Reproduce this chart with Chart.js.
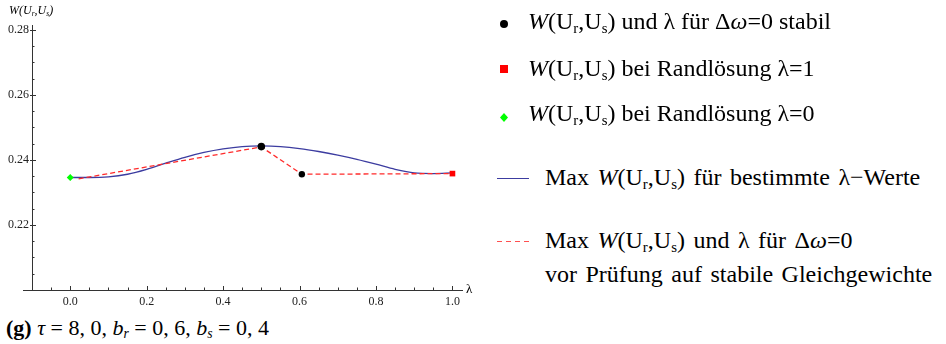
<!DOCTYPE html>
<html>
<head>
<meta charset="utf-8">
<script src="https://cdn.jsdelivr.net/npm/chart.js@4/dist/chart.umd.min.js"></script>
<style>
  body { margin: 0; background: #fff; width: 946px; height: 344px; position: relative; overflow: hidden;
         font-family: "Liberation Serif", "Times New Roman", serif; color: #000; }
  #plot { position: absolute; left: 0; top: 0; }
  .t { position: absolute; white-space: nowrap; line-height: 20px; }
  .leg { font-size: 24px; }
  .wide { word-spacing: 2.5px; }
  sub { font-size: 0.62em; vertical-align: -0.25em; line-height: 0; }
  .mk { position: absolute; }
</style>
</head>
<body>
<canvas id="plot" width="480" height="312"></canvas>

<div class="t" style="left:9px; top:0px; font-size:12px; font-style:italic;">W(U<sub>r</sub>,U<sub>s</sub>)</div>
<div class="t" style="left:466px; top:279px; font-size:13px;">λ</div>
<div class="t" style="left:6px; top:317.5px; font-size:22px;"><b>(g)</b> <i>τ</i> = 8, 0, <i>b<sub>r</sub></i> = 0, 6, <i>b<sub>s</sub></i> = 0, 4</div>

<svg class="mk" style="left:494px; top:10px;" width="40" height="250">
  <circle cx="10" cy="14" r="4" fill="#000"/>
  <rect x="6" y="55" width="8" height="8" fill="#ff0000"/>
  <polygon points="10,103 14,107.5 10,112 6,107.5" fill="#00ff00"/>
  <line x1="3" y1="168.5" x2="35" y2="168.5" stroke="#3c3ca0" stroke-width="1"/>
  <line x1="3" y1="231.5" x2="35" y2="231.5" stroke="#ff5050" stroke-width="1.2" stroke-dasharray="5,4"/>
</svg>

<div class="t leg" style="left:528px; top:11.4px;"><i>W</i>(U<sub>r</sub>,U<sub>s</sub>) und λ für Δ<i>ω</i>=0 stabil</div>
<div class="t leg" style="left:528px; top:58px;"><i>W</i>(U<sub>r</sub>,U<sub>s</sub>) bei Randlösung λ=1</div>
<div class="t leg" style="left:528px; top:103.4px;"><i>W</i>(U<sub>r</sub>,U<sub>s</sub>) bei Randlösung λ=0</div>
<div class="t leg wide" style="left:545px; top:167px;">Max <i>W</i>(U<sub>r</sub>,U<sub>s</sub>) für bestimmte λ−Werte</div>
<div class="t leg wide" style="left:545px; top:230.2px;">Max <i>W</i>(U<sub>r</sub>,U<sub>s</sub>) und λ für Δ<i>ω</i>=0</div>
<div class="t leg wide" style="left:545px; top:263.6px;">vor Prüfung auf stabile Gleichgewichte</div>

<script>
// curve: max W for given lambda
const curveLambda = [0, 0.05, 0.1, 0.15, 0.2, 0.25, 0.3, 0.35, 0.4, 0.45, 0.5, 0.55, 0.6, 0.65, 0.7, 0.75, 0.8, 0.85, 0.9, 0.95, 1.0];
const curveW = [0.2346, 0.2346, 0.2348, 0.2356, 0.2371, 0.2390, 0.2408, 0.2423, 0.2434, 0.2441, 0.2443, 0.2441, 0.2435, 0.2426, 0.2415, 0.2402, 0.2387, 0.2371, 0.2360, 0.2358, 0.2360];

// dashed: before stability check
const dashLambda = [0.022, 0.5, 0.606, 1.0];
const dashW = [0.2342, 0.2440, 0.2356, 0.2358];

// markers
const stableLambda = [0.5, 0.606];
const stableW = [0.2441, 0.2356];
const edge1Lambda = [1.0];
const edge1W = [0.2358];
const edge0Lambda = [0.0];
const edge0W = [0.2346];

const xMajor = [0, 0.2, 0.4, 0.6, 0.8, 1.0];
const yMajor = [0.22, 0.24, 0.26, 0.28];

const pts = (xs, ys) => xs.map((x, i) => ({ x: x, y: ys[i] }));
const near = (v, arr) => arr.some(a => Math.abs(a - v) < 1e-6);

// mathematica style ticks pointing into the plot
const inwardTicks = {
  id: 'inwardTicks',
  afterDraw(chart) {
    const ctx = chart.ctx;
    const xs = chart.scales.x, ys = chart.scales.y;
    const x0 = xs.getPixelForValue(-0.1);
    const y0 = ys.getPixelForValue(0.2);
    ctx.save();
    ctx.strokeStyle = '#333';
    ctx.lineWidth = 1;
    ctx.beginPath();
    ctx.moveTo(x0 - 9, y0 + 0.5);
    ctx.lineTo(x0, y0 + 0.5);
    for (let i = -1; i <= 20; i++) {
      const v = i * 0.05;
      const px = Math.round(xs.getPixelForValue(v)) + 0.5;
      const len = near(v, xMajor) ? 4 : 2.5;
      ctx.moveTo(px, y0);
      ctx.lineTo(px, y0 - len);
    }
    for (let i = 1; i <= 16; i++) {
      const v = 0.2 + i * 0.005;
      const py = Math.round(ys.getPixelForValue(v)) + 0.5;
      const maj = near(v, yMajor);
      ctx.moveTo(x0 - (maj ? 2 : 0), py);
      ctx.lineTo(x0 + (maj ? 4 : 2.5), py);
    }
    ctx.stroke();
    ctx.restore();
  }
};

new Chart(document.getElementById('plot'), {
  type: 'scatter',
  data: {
    datasets: [
      {
        label: 'stabil',
        data: pts(stableLambda, stableW),
        backgroundColor: '#000', borderColor: '#000',
        pointRadius: [3.8, 3.2], pointBorderWidth: 0, order: 0
      },
      {
        label: 'lambda=1',
        data: pts(edge1Lambda, edge1W),
        pointStyle: 'rect', backgroundColor: '#ff0000', borderColor: '#ff0000',
        pointRadius: 4, pointBorderWidth: 0, order: 0
      },
      {
        label: 'lambda=0',
        data: pts(edge0Lambda, edge0W),
        pointStyle: 'rectRot', backgroundColor: '#00ff00', borderColor: '#00ff00',
        pointRadius: 3.5, pointBorderWidth: 0, order: 0
      },
      {
        label: 'vor Pruefung',
        data: pts(dashLambda, dashW),
        showLine: true, borderColor: '#ff2a2a', borderWidth: 1.3, borderDash: [5, 3],
        pointRadius: 0, tension: 0, order: 1
      },
      {
        label: 'Max W',
        data: pts(curveLambda, curveW),
        showLine: true, borderColor: '#3c3ca0', borderWidth: 1.3,
        pointRadius: 0, cubicInterpolationMode: 'monotone', order: 2
      }
    ]
  },
  options: {
    responsive: false,
    animation: false,
    layout: { padding: { top: 25, right: 18, left: 0, bottom: 0 } },
    plugins: { legend: { display: false }, tooltip: { enabled: false } },
    scales: {
      x: {
        type: 'linear', min: -0.1, max: 1.025,
        afterFit(scale) { scale.height = 22; },
        border: { color: '#333', width: 1 },
        grid: { drawOnChartArea: false, drawTicks: false },
        ticks: {
          stepSize: 0.2, includeBounds: false, padding: 5, color: '#222', maxRotation: 0,
          font: { family: 'Liberation Serif', size: 12 },
          callback: v => near(v, xMajor) ? v.toFixed(1) : ''
        }
      },
      y: {
        type: 'linear', min: 0.2, max: 0.2815,
        afterFit(scale) { scale.width = 32; },
        border: { color: '#333', width: 1 },
        grid: { drawOnChartArea: false, drawTicks: false },
        ticks: {
          stepSize: 0.02, includeBounds: false, padding: 3, color: '#222',
          font: { family: 'Liberation Serif', size: 12 },
          callback: v => near(v, yMajor) ? v.toFixed(2) : ''
        }
      }
    }
  },
  plugins: [inwardTicks]
});
</script>
</body>
</html>
